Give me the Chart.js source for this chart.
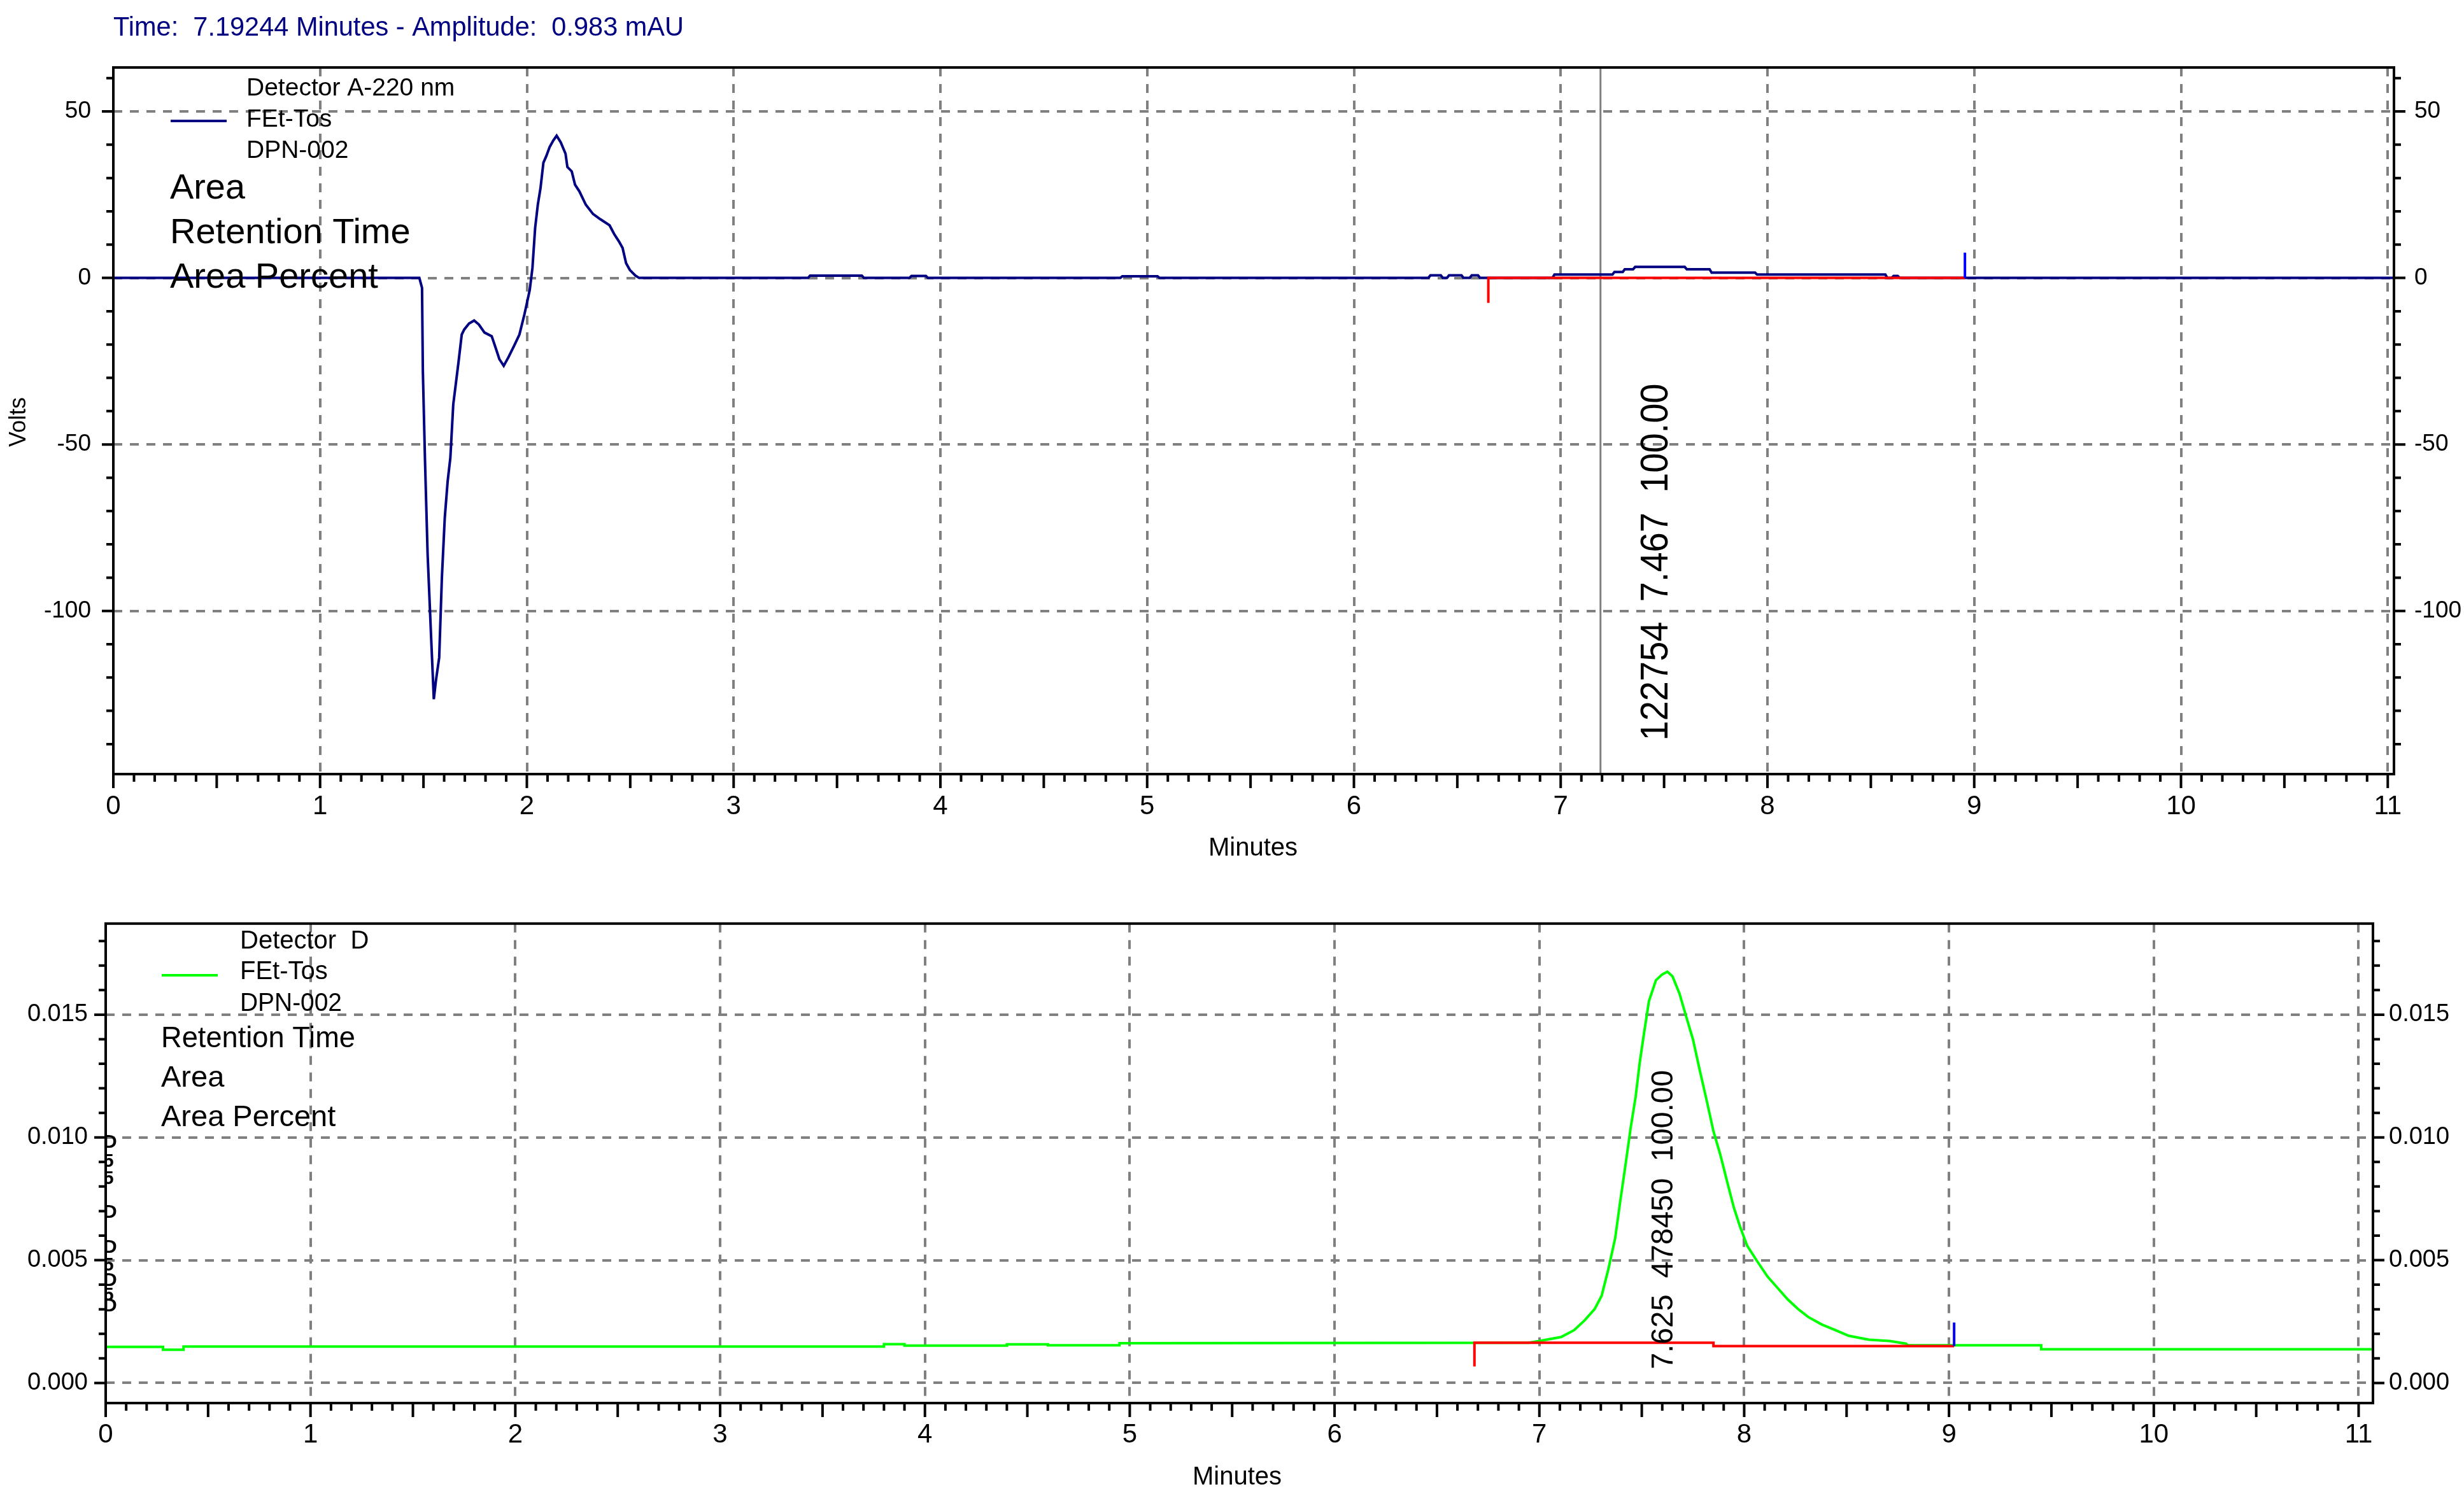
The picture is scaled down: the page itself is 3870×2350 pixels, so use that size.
<!DOCTYPE html>
<html>
<head>
<meta charset="utf-8">
<title>FEt-Tos DPN-002</title>
<script src="https://cdn.jsdelivr.net/npm/chart.js@4.4.1/dist/chart.umd.min.js"></script>
<style>
  html, body { margin: 0; padding: 0; background: #fff; }
  #wrap { position: relative; width: 3870px; height: 2350px; }
  canvas { position: absolute; left: 0; }
</style>
</head>
<body>
<div id="wrap">
  <canvas id="topChart" width="3870" height="1400" style="top:0"></canvas>
  <canvas id="bottomChart" width="3870" height="950" style="top:1400px"></canvas>
</div>
<script>
// ---- values ----
const minuteTicks = [0, 1, 2, 3, 4, 5, 6, 7, 8, 9, 10, 11];
const voltTicks = [50, 0, -50, -100];
const signalTicks = [0, 0.005, 0.010, 0.015];

// detector A, 220 nm
const topTime = [0, 1.48, 1.493, 1.497, 1.507, 1.52, 1.537, 1.55, 1.56, 1.576, 1.589, 1.603, 1.617, 1.63, 1.644, 1.658, 1.67, 1.685, 1.697, 1.72, 1.745, 1.768, 1.795, 1.83, 1.849, 1.867, 1.888, 1.911, 1.938, 1.964, 1.988, 2.0, 2.014, 2.027, 2.04, 2.053, 2.066, 2.08, 2.094, 2.11, 2.128, 2.144, 2.164, 2.187, 2.196, 2.217, 2.233, 2.254, 2.285, 2.32, 2.356, 2.4, 2.422, 2.445, 2.463, 2.48, 2.498, 2.525, 2.543, 3.36, 3.37, 3.62, 3.63, 3.85, 3.86, 3.93, 3.94, 4.87, 4.88, 5.05, 5.06, 6.36, 6.37, 6.42, 6.43, 6.45, 6.46, 6.52, 6.53, 6.56, 6.57, 6.6, 6.61, 6.96, 6.97, 7.25, 7.26, 7.3, 7.31, 7.35, 7.36, 7.6, 7.61, 7.72, 7.73, 7.94, 7.95, 8.57, 8.58, 8.6, 8.61, 8.63, 8.64, 11.03];
const topVolts = [0, 0, -3, -28, -54, -83, -108, -126.5, -121, -114, -90, -72, -61, -54, -38, -31, -25, -17, -15.5, -13.7, -12.8, -14, -16.4, -17.5, -21, -24.4, -26.4, -23.8, -20.4, -17, -11, -7.6, -3.6, 3, 15, 22, 27, 34.6, 36.6, 39.3, 41.3, 42.7, 40.7, 37.3, 33.3, 32, 28, 26, 22, 19.2, 17.6, 15.8, 13.2, 11, 9, 4.4, 2.4, 0.7, 0, 0, 0.7, 0.7, 0, 0, 0.6, 0.6, 0, 0, 0.5, 0.5, 0, 0, 0.8, 0.8, 0, 0, 0.8, 0.8, 0, 0, 0.8, 0.8, 0, 0, 1, 1, 1.8, 1.8, 2.6, 2.6, 3.3, 3.3, 2.6, 2.6, 1.6, 1.6, 1, 1, 0, 0, 0.6, 0.6, 0, 0];
const topBaseTime = [6.65, 6.65, 8.955];
const topBaseVolts = [-7.5, 0, 0];
const topEndTime = [8.955, 8.955];
const topEndVolts = [0, 7.6];
const cursorTime = 7.19244;

// detector D
const botTime = [0, 0.28, 0.28, 0.38, 0.38, 3.8, 3.8, 3.9, 3.9, 4.4, 4.4, 4.6, 4.6, 4.95, 4.95, 6.95, 7.0, 7.106, 7.17, 7.22, 7.27, 7.304, 7.337, 7.37, 7.393, 7.42, 7.446, 7.47, 7.49, 7.512, 7.535, 7.569, 7.6, 7.625, 7.65, 7.684, 7.717, 7.75, 7.783, 7.817, 7.85, 7.883, 7.916, 7.95, 7.98, 8.015, 8.064, 8.114, 8.164, 8.213, 8.263, 8.312, 8.379, 8.445, 8.51, 8.61, 8.71, 8.79, 8.8, 9.45, 9.45, 11.07];
const botSignal = [0.00147, 0.00147, 0.00135, 0.00135, 0.00148, 0.00148, 0.00158, 0.00158, 0.00152, 0.00152, 0.00157, 0.00157, 0.00153, 0.00153, 0.00162, 0.00164, 0.00171, 0.00187, 0.00215, 0.00254, 0.00301, 0.00355, 0.00464, 0.00589, 0.00729, 0.00885, 0.0104, 0.01165, 0.01305, 0.0143, 0.01555, 0.0164, 0.01664, 0.01675, 0.01656, 0.01586, 0.01492, 0.01399, 0.01274, 0.0115, 0.01025, 0.00931, 0.00822, 0.00713, 0.00636, 0.00558, 0.00495, 0.00433, 0.00386, 0.0034, 0.00301, 0.00269, 0.00238, 0.00215, 0.00192, 0.00176, 0.00171, 0.0016, 0.00153, 0.00153, 0.00137, 0.00137];
const botBaseTime = [6.683, 6.683, 7.85, 7.85, 9.025];
const botBaseSignal = [0.00067, 0.00164, 0.00164, 0.0015, 0.0015];
const botEndTime = [9.025, 9.025];
const botEndSignal = [0.0015, 0.00246];

// ---- text ----
const headerText = 'Time:  7.19244 Minutes - Amplitude:  0.983 mAU';
const topLegend = ['Detector A-220 nm', 'FEt-Tos', 'DPN-002'];
const topFields = ['Area', 'Retention Time', 'Area Percent'];
const topPeakText = '122754  7.467  100.00';
const botLegend = ['Detector  D', 'FEt-Tos', 'DPN-002'];
const botFields = ['Retention Time', 'Area', 'Area Percent'];
const botPeakText = '7.625  478450  100.00';
const edgeGlyphs = ['D', '5', '5', 'D', 'D', '5', 'D', '5', 'D'];

Chart.defaults.font.family = '"Liberation Sans", Arial, sans-serif';
Chart.defaults.color = '#000';

const pts = (xs, ys) => xs.map((x, i) => ({ x, y: ys[i] }));
const setTicks = values => scale => { scale.ticks = values.map(value => ({ value })); };

// axis marks, frame, cursor and free text
const decor = {
  id: 'decor',
  beforeDatasetsDraw(chart, args, o) {
    if (o.cursor === undefined) return;
    const { ctx, chartArea: a } = chart;
    const px = chart.scales.x.getPixelForValue(o.cursor);
    ctx.save();
    ctx.strokeStyle = '#808080';
    ctx.lineWidth = 3;
    ctx.beginPath();
    ctx.moveTo(px, a.top);
    ctx.lineTo(px, a.bottom);
    ctx.stroke();
    ctx.restore();
  },
  afterDraw(chart, args, o) {
    const { ctx, chartArea: a } = chart;
    const x = chart.scales.x, y = chart.scales.y;
    ctx.save();

    if (o.glyphs) {
      ctx.save();
      ctx.beginPath();
      ctx.rect(a.left, a.top, 60, a.bottom - a.top);
      ctx.clip();
      ctx.font = 'bold ' + o.glyphs.size + 'px "Liberation Sans"';
      ctx.fillStyle = '#000';
      ctx.textAlign = 'left';
      ctx.textBaseline = 'middle';
      o.glyphs.chars.forEach((c, i) => ctx.fillText(c, a.left - 4, o.glyphs.ys[i]));
      ctx.restore();
    }

    ctx.strokeStyle = '#000';
    ctx.lineWidth = 4;
    ctx.beginPath();
    const nx = Math.floor(x.max / o.minorX + 1e-6);
    for (let i = 0; i <= nx; i++) {
      const px = x.getPixelForValue(i * o.minorX);
      const len = i % 5 === 0 ? 22 : 12;
      ctx.moveTo(px, a.bottom);
      ctx.lineTo(px, a.bottom + len);
    }
    const i0 = Math.ceil(y.min / o.minorY - 1e-6), i1 = Math.floor(y.max / o.minorY + 1e-6);
    for (let i = i0; i <= i1; i++) {
      const py = y.getPixelForValue(i * o.minorY);
      const len = i % 5 === 0 ? 18 : 11;
      ctx.moveTo(a.left - len, py);
      ctx.lineTo(a.left, py);
      ctx.moveTo(a.right, py);
      ctx.lineTo(a.right + len, py);
    }
    ctx.stroke();
    ctx.strokeRect(a.left, a.top, a.right - a.left, a.bottom - a.top);

    const sw = o.swatch;
    ctx.strokeStyle = chart.data.datasets[sw.dataset].borderColor;
    ctx.beginPath();
    ctx.moveTo(sw.x1, sw.y);
    ctx.lineTo(sw.x2, sw.y);
    ctx.stroke();

    o.texts.forEach(t => {
      ctx.save();
      ctx.font = t.size + 'px "Liberation Sans", Arial, sans-serif';
      ctx.fillStyle = t.color || '#000';
      ctx.textAlign = t.align || 'left';
      ctx.textBaseline = 'middle';
      ctx.translate(t.x, t.y);
      if (t.rot) ctx.rotate(t.rot);
      if (t.w) ctx.fillText(t.t, 0, 0, t.w);
      else ctx.fillText(t.t, 0, 0);
      ctx.restore();
    });
    ctx.restore();
  }
};
Chart.register(decor);

function xScale(max, height, pad) {
  return {
    type: 'linear', min: 0, max,
    afterBuildTicks: setTicks(minuteTicks),
    afterFit: s => { s.height = height; },
    grid: { color: '#808080', lineWidth: 4, drawTicks: false },
    border: { display: false, dash: [14, 12] },
    ticks: { padding: pad, font: { size: 42 }, maxRotation: 0, autoSkip: false, callback: v => String(v) }
  };
}

function yScale(position, min, max, ticks, width, pad, size, fmt, onArea) {
  return {
    type: 'linear', position, min, max,
    afterBuildTicks: setTicks(ticks),
    afterFit: s => { s.width = width; },
    grid: { color: '#808080', lineWidth: 4, drawTicks: false, drawOnChartArea: onArea },
    border: { display: false, dash: [14, 12] },
    ticks: { padding: pad, font: { size }, callback: fmt }
  };
}

const common = {
  responsive: false,
  animation: false,
  devicePixelRatio: 1,
  elements: { point: { radius: 0 }, line: { tension: 0, borderWidth: 4 } },
};

const voltLabel = v => String(v);
const signalLabel = v => v.toFixed(3);

new Chart(document.getElementById('topChart'), {
  type: 'line',
  data: {
    datasets: [
      { data: pts(topTime, topVolts), borderColor: '#000080', order: 3 },
      { data: pts(topBaseTime, topBaseVolts), borderColor: '#ff0000', order: 2 },
      { data: pts(topEndTime, topEndVolts), borderColor: '#0000ff', order: 1 }
    ]
  },
  options: {
    ...common,
    layout: { padding: { top: 106 } },
    plugins: {
      legend: { display: false },
      tooltip: { enabled: false },
      decor: {
        cursor: cursorTime,
        minorX: 0.1,
        minorY: 10,
        swatch: { dataset: 0, x1: 268, x2: 356, y: 190 },
        texts: [
          { t: headerText, x: 178, y: 44, size: 42, w: 896, color: '#000080' },
          { t: topLegend[0], x: 387, y: 139, size: 39, w: 353 },
          { t: topLegend[1], x: 387, y: 188, size: 39, w: 146 },
          { t: topLegend[2], x: 387, y: 237, size: 39, w: 166 },
          { t: topFields[0], x: 267, y: 297, size: 56, w: 118 },
          { t: topFields[1], x: 267, y: 367, size: 56, w: 382 },
          { t: topFields[2], x: 267, y: 437, size: 56, w: 333 },
          { t: 'Volts', x: 30, y: 663, size: 36, align: 'center', rot: -Math.PI / 2 },
          { t: 'Minutes', x: 1968, y: 1333, size: 40, align: 'center' },
          { t: topPeakText, x: 2602, y: 883, size: 62, w: 561, align: 'center', rot: -Math.PI / 2 }
        ]
      }
    },
    scales: {
      x: xScale(11.03, 184, 26),
      y: yScale('left', -149, 63.2, voltTicks, 178, 35, 37, voltLabel, true),
      y2: yScale('right', -149, 63.2, voltTicks, 110, 32, 37, voltLabel, false)
    }
  }
});

new Chart(document.getElementById('bottomChart'), {
  type: 'line',
  data: {
    datasets: [
      { data: pts(botTime, botSignal), borderColor: '#00ff00', order: 3 },
      { data: pts(botBaseTime, botBaseSignal), borderColor: '#ff0000', order: 2 },
      { data: pts(botEndTime, botEndSignal), borderColor: '#0000ff', order: 1 }
    ]
  },
  options: {
    ...common,
    layout: { padding: { top: 46 } },
    plugins: {
      legend: { display: false },
      tooltip: { enabled: false },
      decor: {
        minorX: 0.1,
        minorY: 0.001,
        swatch: { dataset: 0, x1: 254, x2: 342, y: 132 },
        glyphs: { chars: edgeGlyphs, size: 30, ys: [395, 425, 452, 505, 560, 588, 612, 635, 652] },
        texts: [
          { t: botLegend[0], x: 377, y: 79, size: 40, w: 203 },
          { t: botLegend[1], x: 377, y: 127, size: 40, w: 142 },
          { t: botLegend[2], x: 377, y: 177, size: 40, w: 160 },
          { t: botFields[0], x: 253, y: 232, size: 47, w: 305 },
          { t: botFields[1], x: 253, y: 294, size: 47, w: 101 },
          { t: botFields[2], x: 253, y: 356, size: 47, w: 278 },
          { t: 'Minutes', x: 1943, y: 921, size: 40, align: 'center' },
          { t: botPeakText, x: 2614, y: 516, size: 48, w: 470, align: 'center', rot: -Math.PI / 2 }
        ]
      }
    },
    scales: {
      x: xScale(11.07, 146, 25),
      y: yScale('left', -0.00082, 0.01871, signalTicks, 166, 28, 38, signalLabel, true),
      y2: yScale('right', -0.00082, 0.01871, signalTicks, 143, 25, 38, signalLabel, false)
    }
  }
});
</script>
</body>
</html>
